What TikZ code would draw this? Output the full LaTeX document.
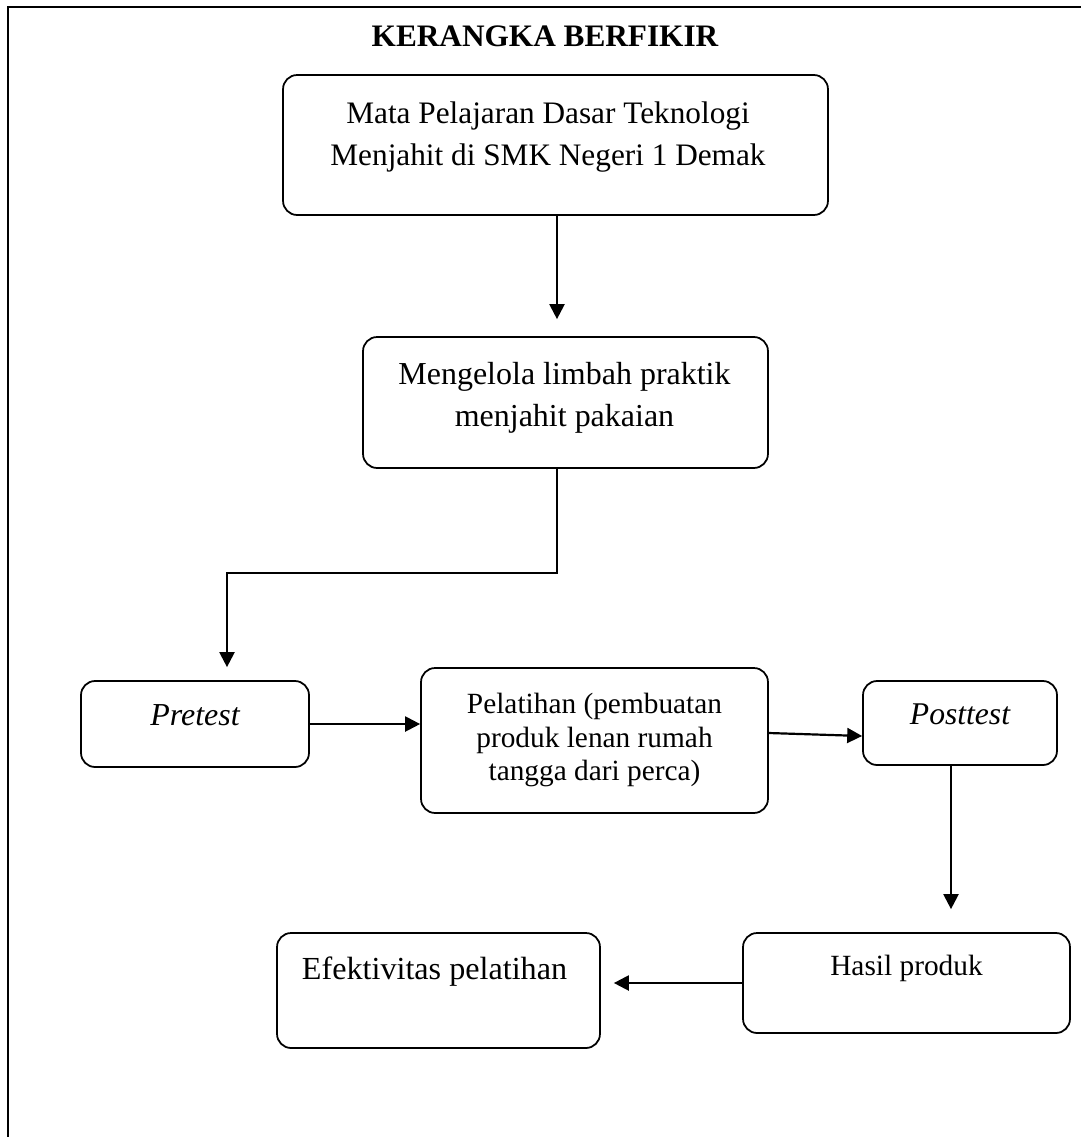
\documentclass[tikz,border=0pt]{standalone}
\usepackage{fontspec}
\setmainfont{Liberation Serif}
\usetikzlibrary{arrows.meta}

\begin{document}
\begin{tikzpicture}[x=0.02cm,y=-0.02cm,
  kotak/.style={draw,rounded corners=8pt,line width=1pt,inner sep=0pt},
  teks/.style={align=center,inner sep=0pt},
  panah/.style={-{Triangle[length=8.5pt,width=8.5pt]},line width=1.25pt}]
\useasboundingbox (0,0) rectangle (1081,1137);
% bingkai
\draw[line width=1.4pt] (8,1137) -- (8,7) -- (1081,7);
\node[teks,font=\fontsize{17.8}{22}\selectfont\bfseries] (judul) at (545,36) {KERANGKA BERFIKIR};
% kotak-kotak
\node[kotak,minimum width=10.9cm,minimum height=2.8cm] (mapel) at (555.5,145) {};
\node[teks,font=\fontsize{17.8}{24}\selectfont] (mapeltks) at (548,137) {Mata Pelajaran Dasar Teknologi\\Menjahit di SMK Negeri 1 Demak};
\node[kotak,minimum width=8.1cm,minimum height=2.62cm] (kelola) at (565.5,402.5) {};
\node[teks,font=\fontsize{18.2}{24}\selectfont] (kelolatks) at (564.5,398) {Mengelola limbah praktik\\menjahit pakaian};
\node[kotak,minimum width=4.56cm,minimum height=1.72cm] (pretest) at (195,724) {};
\node[teks,font=\fontsize{18.2}{20}\selectfont\itshape] (pretesttks) at (195,715) {Pretest};
\node[kotak,minimum width=6.94cm,minimum height=2.9cm] (pelatihan) at (594.5,740.5) {};
\node[teks,font=\fontsize{16.7}{19}\selectfont] (pelatihantks) at (594.5,740) {Pelatihan (pembuatan\\produk lenan rumah\\tangga dari perca)};
\node[kotak,minimum width=3.88cm,minimum height=1.68cm] (posttest) at (960,723) {};
\node[teks,font=\fontsize{18}{20}\selectfont\itshape] (posttesttks) at (960,714) {Posttest};
\node[kotak,minimum width=6.54cm,minimum height=2cm] (hasil) at (906.5,983) {};
\node[teks,font=\fontsize{16.7}{19}\selectfont] (hasiltks) at (906.5,968) {Hasil produk};
\node[kotak,minimum width=6.46cm,minimum height=2.3cm] (efek) at (438.5,990.5) {};
\node[teks,font=\fontsize{18.3}{20}\selectfont] (efektks) at (434.5,972) {Efektivitas pelatihan};
% panah
\coordinate (belok1) at (557,573);
\coordinate (belok2) at (227,573);
\draw[panah,shorten >=0.34cm] (mapel.south -| belok1) -- (kelola.north -| belok1);
\draw[panah,shorten >=0.26cm] (kelola.south -| belok1) -- (belok1) -- (belok2) -- (belok2 |- pretest.north);
\draw[panah] (pretest.east) -- (pretest.east -| pelatihan.west);
\draw[panah] ([yshift=0.15cm]pelatihan.east) -- ([yshift=-0.26cm]posttest.west);
\draw[panah,shorten >=0.46cm] ([xshift=-0.18cm]posttest.south) -- ([xshift=-0.18cm]posttest.south |- hasil.north);
\draw[panah,shorten >=0.26cm] (hasil.west) -- (efek.east |- hasil.west);
\end{tikzpicture}
\end{document}
